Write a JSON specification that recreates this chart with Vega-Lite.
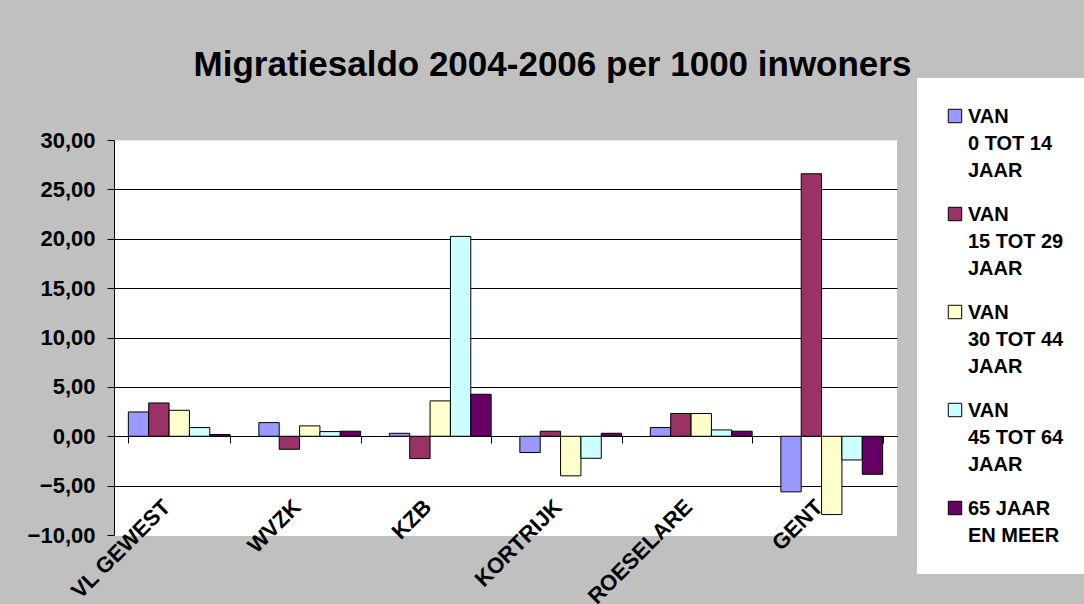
{
  "$schema": "https://vega.github.io/schema/vega-lite/v6.json",
  "autosize": "none",
  "width": 783,
  "height": 395,
  "padding": {"left": 114, "top": 140, "right": 187, "bottom": 69},
  "background": "#C0C0C0",
  "title": {
    "text": "Migratiesaldo 2004-2006 per 1000 inwoners",
    "anchor": "middle",
    "frame": "group",
    "dx": 47,
    "offset": -5,
    "font": "Liberation Sans",
    "fontSize": 35,
    "fontWeight": "bold",
    "color": "black"
  },
  "config": {
    "view": {"fill": "white", "stroke": null},
    "font": "Liberation Sans"
  },
  "data": {
    "values": [
      {"regio": "VL GEWEST", "leeftijd": "VAN\n0 TOT 14\nJAAR", "saldo": 2.46},
      {"regio": "VL GEWEST", "leeftijd": "VAN\n15 TOT 29\nJAAR", "saldo": 3.37},
      {"regio": "VL GEWEST", "leeftijd": "VAN\n30 TOT 44\nJAAR", "saldo": 2.63},
      {"regio": "VL GEWEST", "leeftijd": "VAN\n45 TOT 64\nJAAR", "saldo": 0.88},
      {"regio": "VL GEWEST", "leeftijd": "65 JAAR\nEN MEER", "saldo": 0.17},
      {"regio": "WVZK", "leeftijd": "VAN\n0 TOT 14\nJAAR", "saldo": 1.38},
      {"regio": "WVZK", "leeftijd": "VAN\n15 TOT 29\nJAAR", "saldo": -1.32},
      {"regio": "WVZK", "leeftijd": "VAN\n30 TOT 44\nJAAR", "saldo": 1.05},
      {"regio": "WVZK", "leeftijd": "VAN\n45 TOT 64\nJAAR", "saldo": 0.47},
      {"regio": "WVZK", "leeftijd": "65 JAAR\nEN MEER", "saldo": 0.51},
      {"regio": "KZB", "leeftijd": "VAN\n0 TOT 14\nJAAR", "saldo": 0.3},
      {"regio": "KZB", "leeftijd": "VAN\n15 TOT 29\nJAAR", "saldo": -2.26},
      {"regio": "KZB", "leeftijd": "VAN\n30 TOT 44\nJAAR", "saldo": 3.58},
      {"regio": "KZB", "leeftijd": "VAN\n45 TOT 64\nJAAR", "saldo": 20.24},
      {"regio": "KZB", "leeftijd": "65 JAAR\nEN MEER", "saldo": 4.25},
      {"regio": "KORTRIJK", "leeftijd": "VAN\n0 TOT 14\nJAAR", "saldo": -1.65},
      {"regio": "KORTRIJK", "leeftijd": "VAN\n15 TOT 29\nJAAR", "saldo": 0.51},
      {"regio": "KORTRIJK", "leeftijd": "VAN\n30 TOT 44\nJAAR", "saldo": -4.01},
      {"regio": "KORTRIJK", "leeftijd": "VAN\n45 TOT 64\nJAAR", "saldo": -2.23},
      {"regio": "KORTRIJK", "leeftijd": "65 JAAR\nEN MEER", "saldo": 0.3},
      {"regio": "ROESELARE", "leeftijd": "VAN\n0 TOT 14\nJAAR", "saldo": 0.88},
      {"regio": "ROESELARE", "leeftijd": "VAN\n15 TOT 29\nJAAR", "saldo": 2.3},
      {"regio": "ROESELARE", "leeftijd": "VAN\n30 TOT 44\nJAAR", "saldo": 2.3},
      {"regio": "ROESELARE", "leeftijd": "VAN\n45 TOT 64\nJAAR", "saldo": 0.64},
      {"regio": "ROESELARE", "leeftijd": "65 JAAR\nEN MEER", "saldo": 0.51},
      {"regio": "GENT", "leeftijd": "VAN\n0 TOT 14\nJAAR", "saldo": -5.63},
      {"regio": "GENT", "leeftijd": "VAN\n15 TOT 29\nJAAR", "saldo": 26.58},
      {"regio": "GENT", "leeftijd": "VAN\n30 TOT 44\nJAAR", "saldo": -7.93},
      {"regio": "GENT", "leeftijd": "VAN\n45 TOT 64\nJAAR", "saldo": -2.4},
      {"regio": "GENT", "leeftijd": "65 JAAR\nEN MEER", "saldo": -3.85}
    ]
  },
  "mark": {"type": "bar", "stroke": "black", "strokeWidth": 1},
  "encoding": {
    "x": {
      "field": "regio",
      "type": "nominal",
      "sort": null,
      "scale": {"paddingInner": 0.22, "paddingOuter": 0.11},
      "axis": {
        "title": null,
        "orient": "bottom",
        "offset": -99,
        "domain": true,
        "domainColor": "black",
        "domainWidth": 1,
        "ticks": true,
        "tickBand": "extent",
        "tickSize": 7,
        "tickColor": "black",
        "labelAngle": -45,
        "labelAlign": "right",
        "labelBaseline": "middle",
        "labelPadding": 60,
        "labelOffset": -13,
        "labelFont": "Liberation Sans",
        "labelFontSize": 22,
        "labelFontWeight": "bold",
        "labelColor": "black",
        "labelLimit": 0
      }
    },
    "xOffset": {
      "field": "leeftijd",
      "type": "nominal",
      "sort": null,
      "scale": {"paddingInner": 0, "paddingOuter": 0}
    },
    "y": {
      "field": "saldo",
      "type": "quantitative",
      "scale": {"domain": [-10, 30], "nice": false, "zero": false},
      "axis": {
        "title": null,
        "values": [-10, -5, 0, 5, 10, 15, 20, 25, 30],
        "labelExpr": "replace(format(datum.value, '.2f'), '.', ',')",
        "grid": true,
        "gridColor": {
          "condition": [
            {"test": "datum.value == 30", "value": "#e6e6e6"},
            {"test": "datum.value == -10", "value": "white"}
          ],
          "value": "black"
        },
        "gridWidth": 1,
        "gridOpacity": 1,
        "domain": true,
        "domainColor": "black",
        "tickColor": "black",
        "tickSize": 7,
        "labelPadding": 12,
        "labelFont": "Liberation Sans",
        "labelFontSize": 22,
        "labelFontWeight": "bold",
        "labelColor": "black"
      }
    },
    "color": {
      "field": "leeftijd",
      "type": "nominal",
      "sort": null,
      "scale": {
        "domain": ["VAN\n0 TOT 14\nJAAR", "VAN\n15 TOT 29\nJAAR", "VAN\n30 TOT 44\nJAAR", "VAN\n45 TOT 64\nJAAR", "65 JAAR\nEN MEER"],
        "range": ["#9999FF", "#993366", "#FFFFCC", "#CCFFFF", "#660066"]
      },
      "legend": {
        "title": null,
        "orient": "none",
        "legendX": 803,
        "legendY": -62,
        "fillColor": "white",
        "padding": 28,
        "rowPadding": 23,
        "symbolType": "square",
        "symbolSize": 180,
        "symbolStrokeColor": "black",
        "symbolStrokeWidth": 1,
        "symbolOpacity": 1,
        "labelExpr": "split(datum.label, '\\n')",
        "labelFont": "Liberation Sans",
        "labelFontSize": 20,
        "labelFontWeight": "bold",
        "labelColor": "black",
        "labelBaseline": "top",
        "labelOffset": 3,
        "labelLimit": 0,
        "encode": {"labels": {"update": {"lineHeight": {"value": 27}, "dy": {"value": -9}}}}
      }
    }
  }
}
